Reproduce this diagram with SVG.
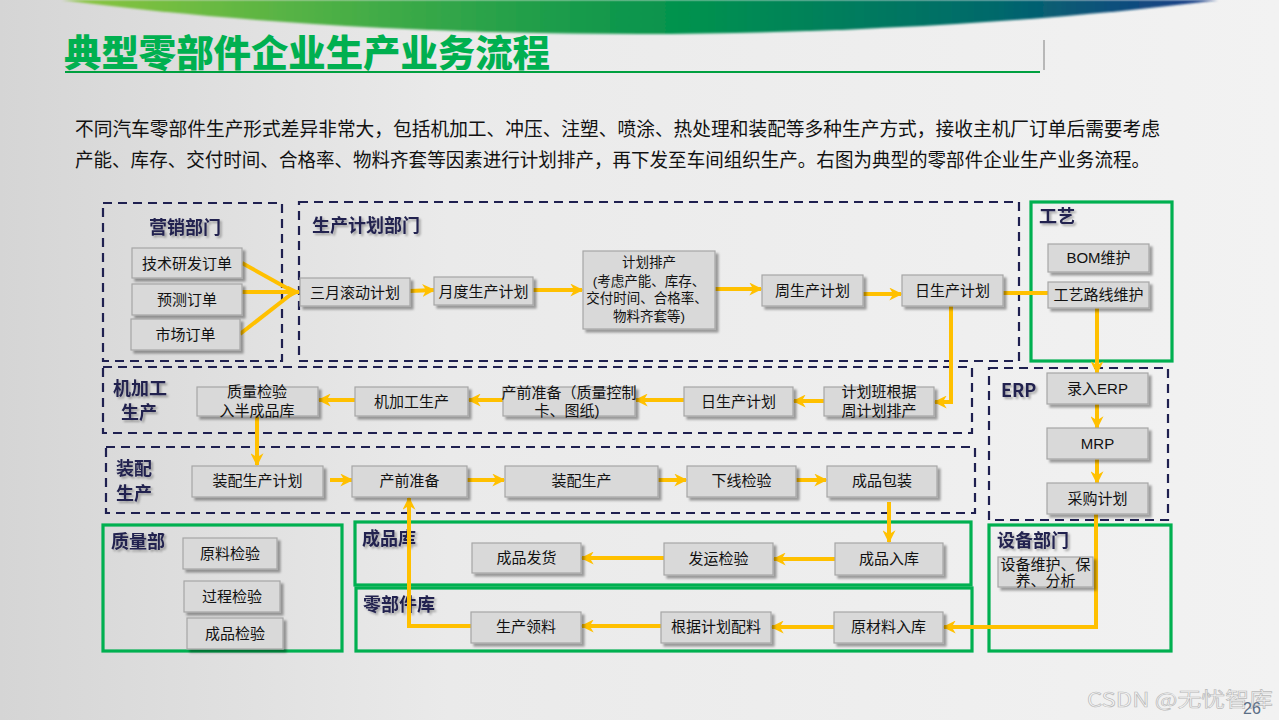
<svg xmlns="http://www.w3.org/2000/svg" width="1279" height="720" viewBox="0 0 1279 720">
<defs>
<linearGradient id="bg" x1="0" y1="0" x2="1" y2="0">
<stop offset="0" stop-color="#d5d5d5"/>
<stop offset="0.35" stop-color="#eaeaea"/>
<stop offset="1" stop-color="#f2f2f2"/>
</linearGradient>
<linearGradient id="band" x1="0" y1="0" x2="1" y2="0">
<stop offset="0" stop-color="#8dc63f"/>
<stop offset="0.3" stop-color="#3aa947"/>
<stop offset="0.55" stop-color="#00914f"/>
<stop offset="0.8" stop-color="#006a6a"/>
<stop offset="1" stop-color="#1b3a8a"/>
</linearGradient>
<filter id="blur" x="-5%" y="-50%" width="110%" height="200%"><feGaussianBlur stdDeviation="1.2"/></filter>
<filter id="sh" x="-10%" y="-10%" width="130%" height="140%"><feDropShadow dx="3" dy="3" stdDeviation="1.2" flood-color="#000" flood-opacity="0.35"/></filter>
<filter id="tsh" x="-10%" y="-20%" width="130%" height="150%"><feDropShadow dx="2" dy="2" stdDeviation="1" flood-color="#000" flood-opacity="0.3"/></filter>
<marker id="arr" viewBox="0 0 10 10" refX="9" refY="5" markerWidth="13" markerHeight="13" markerUnits="userSpaceOnUse" orient="auto">
<path d="M0,0 L10,5 L0,10 L3,5 Z" fill="#ffc000"/>
</marker>
<style>
.box{fill:#d9d9d9;stroke:#a6a6a6;stroke-width:1.2;filter:url(#sh)}
.t{font-family:"Liberation Sans","Noto Sans CJK SC",sans-serif;font-size:15px;fill:#111;text-anchor:middle;dominant-baseline:central}
.ts{font-size:13.5px}
.dash{fill:none;stroke:#1f2050;stroke-width:2.2;stroke-dasharray:9 6}
.grn{fill:none;stroke:#00b050;stroke-width:3.2}
.gt{font-family:"Noto Sans CJK SC",sans-serif;font-size:18px;font-weight:bold;fill:#23234f;filter:url(#tsh)}
.c{fill:none;stroke:#ffc000;stroke-width:4}
.ca{fill:none;stroke:#ffc000;stroke-width:4;marker-end:url(#arr)}
.para{font-family:"Noto Sans CJK SC",sans-serif;font-size:19px;fill:#111}
</style>
</defs>
<rect width="1279" height="720" fill="url(#bg)"/>
<path d="M62,0 L1218,0 C1050,22 820,34 640,34 C430,34 230,22 62,0 Z" fill="url(#band)" filter="url(#blur)"/>
<text x="64" y="67" font-family="'Noto Sans CJK SC',sans-serif" font-size="37" font-weight="900" fill="#00b050" textLength="486" lengthAdjust="spacingAndGlyphs">典型零部件企业生产业务流程</text>
<line x1="65" y1="72" x2="1040" y2="72" stroke="#00a040" stroke-width="2"/>
<line x1="1044" y1="40" x2="1044" y2="70" stroke="#808080" stroke-width="1"/>
<text class="para" x="75" y="136" textLength="1085" lengthAdjust="spacingAndGlyphs">不同汽车零部件生产形式差异非常大，包括机加工、冲压、注塑、喷涂、热处理和装配等多种生产方式，接收主机厂订单后需要考虑</text>
<text class="para" x="75" y="167" textLength="1075" lengthAdjust="spacingAndGlyphs">产能、库存、交付时间、合格率、物料齐套等因素进行计划排产，再下发至车间组织生产。右图为典型的零部件企业生产业务流程。</text>

<g id="grp-marketing"><rect class="dash" x="103" y="203" width="179" height="158"/><text class="gt" x="149" y="234">营销部门</text></g>
<g id="grp-planning"><rect class="dash" x="299" y="202" width="720" height="159"/><text class="gt" x="312" y="232">生产计划部门</text></g>
<g id="grp-process"><rect class="grn" x="1031" y="202" width="141" height="159"/><text class="gt" x="1039" y="223">工艺</text></g>
<g id="grp-erp"><rect class="dash" x="989" y="368" width="179" height="152"/><text class="gt" x="1001" y="397">ERP</text></g>
<g id="grp-machining"><rect class="dash" x="103" y="367" width="869" height="66"/><text class="gt" x="113" y="395" font-size="19px">机加工</text><text class="gt" x="121" y="419" font-size="19px">生产</text></g>
<g id="grp-assembly"><rect class="dash" x="106" y="447" width="869" height="66"/><text class="gt" x="116" y="475" font-size="19px">装配</text><text class="gt" x="116" y="500" font-size="19px">生产</text></g>
<g id="grp-quality"><rect class="grn" x="103" y="525" width="239" height="126"/><text class="gt" x="111" y="548">质量部</text></g>
<g id="grp-fgstore"><rect class="grn" x="355" y="522" width="616" height="63"/><text class="gt" x="362" y="545">成品库</text></g>
<g id="grp-partstore"><rect class="grn" x="356" y="588" width="616" height="63"/><text class="gt" x="363" y="611">零部件库</text></g>
<g id="grp-equipment"><rect class="grn" x="989" y="525" width="182" height="126"/><text class="gt" x="997" y="547">设备部门</text></g>

<g id="connectors">
<line class="c" x1="242" y1="263" x2="294" y2="292"/>
<line class="ca" x1="242" y1="292" x2="299" y2="292"/>
<line class="c" x1="240" y1="334" x2="294" y2="292"/>
<line class="ca" x1="410" y1="291" x2="434" y2="290"/>
<line class="ca" x1="533" y1="290" x2="582" y2="290"/>
<line class="ca" x1="715" y1="289" x2="761" y2="289"/>
<line class="ca" x1="863" y1="294" x2="901" y2="294"/>
<line class="c" x1="1003" y1="293" x2="1048" y2="293"/>
<polyline class="ca" points="951,306 951,402 935,402"/>
<line class="ca" x1="1097" y1="308" x2="1097" y2="373"/>
<line class="ca" x1="1097" y1="404" x2="1097" y2="428"/>
<line class="ca" x1="1097" y1="459" x2="1097" y2="483"/>
<polyline class="ca" points="1096,514 1096,627 944,627"/>
<line class="ca" x1="824" y1="401" x2="794" y2="401"/>
<line class="ca" x1="684" y1="400" x2="636" y2="400"/>
<line class="ca" x1="503" y1="400" x2="469" y2="400"/>
<line class="ca" x1="355" y1="400" x2="319" y2="400"/>
<line class="ca" x1="257" y1="416" x2="257" y2="465"/>
<line class="ca" x1="330" y1="480" x2="352" y2="480"/>
<line class="ca" x1="467" y1="480" x2="504" y2="480"/>
<line class="ca" x1="658" y1="480" x2="686" y2="480"/>
<line class="ca" x1="796" y1="480" x2="826" y2="480"/>
<line class="ca" x1="889" y1="502" x2="889" y2="542"/>
<line class="ca" x1="835" y1="559" x2="774" y2="559"/>
<line class="ca" x1="664" y1="558" x2="582" y2="558"/>
<line class="ca" x1="834" y1="627" x2="772" y2="627"/>
<line class="ca" x1="661" y1="626" x2="582" y2="626"/>
<polyline class="ca" points="471,626 409,626 409,498"/>
</g>

<g id="n-tech"><rect class="box" x="132" y="248" width="110" height="30"/><text class="t" x="187" y="263">技术研发订单</text></g>
<g id="n-forecast"><rect class="box" x="132" y="284" width="110" height="31"/><text class="t" x="187" y="299.5">预测订单</text></g>
<g id="n-market"><rect class="box" x="131" y="319" width="109" height="31"/><text class="t" x="185.5" y="334.5">市场订单</text></g>
<g id="n-3month"><rect class="box" x="300" y="278" width="110" height="28"/><text class="t" x="355" y="292">三月滚动计划</text></g>
<g id="n-monthly"><rect class="box" x="434" y="277" width="99" height="28"/><text class="t" x="483.5" y="291">月度生产计划</text></g>
<g id="n-schedule"><rect class="box" x="583" y="251" width="132" height="78"/><text class="t ts" x="649" y="262">计划排产</text><text class="t ts" x="649" y="281">(考虑产能、库存、</text><text class="t ts" x="647" y="298">交付时间、合格率、</text><text class="t ts" x="649" y="316">物料齐套等)</text></g>
<g id="n-weekly"><rect class="box" x="762" y="275" width="101" height="31"/><text class="t" x="812.5" y="290.5">周生产计划</text></g>
<g id="n-daily1"><rect class="box" x="902" y="275" width="101" height="31"/><text class="t" x="952.5" y="290.5">日生产计划</text></g>
<g id="n-bom"><rect class="box" x="1048" y="244" width="101" height="28"/><text class="t" x="1098.5" y="257">BOM维护</text></g>
<g id="n-route"><rect class="box" x="1048" y="282" width="101" height="26"/><text class="t" x="1098.5" y="294">工艺路线维护</text></g>
<g id="n-erpin"><rect class="box" x="1047" y="373" width="101" height="31"/><text class="t" x="1097.5" y="388">录入ERP</text></g>
<g id="n-mrp"><rect class="box" x="1047" y="428" width="101" height="31"/><text class="t" x="1097.5" y="443">MRP</text></g>
<g id="n-purchase"><rect class="box" x="1047" y="483" width="101" height="31"/><text class="t" x="1097.5" y="498">采购计划</text></g>
<g id="n-qcsemi"><rect class="box" x="197" y="387" width="121" height="29"/><text class="t" x="257" y="391">质量检验</text><text class="t" x="257" y="410">入半成品库</text></g>
<g id="n-machine"><rect class="box" x="355" y="387" width="113" height="29"/><text class="t" x="411.5" y="401">机加工生产</text></g>
<g id="n-prep1"><rect class="box" x="503" y="387" width="132" height="29"/><text class="t" x="569" y="392">产前准备（质量控制</text><text class="t" x="567" y="410">卡、图纸)</text></g>
<g id="n-daily2"><rect class="box" x="684" y="387" width="109" height="29"/><text class="t" x="738.5" y="401">日生产计划</text></g>
<g id="n-shift"><rect class="box" x="824" y="387" width="110" height="29"/><text class="t" x="879" y="391">计划班根据</text><text class="t" x="879" y="410">周计划排产</text></g>
<g id="n-asmplan"><rect class="box" x="192" y="466" width="131" height="31"/><text class="t" x="257.5" y="480">装配生产计划</text></g>
<g id="n-prep2"><rect class="box" x="352" y="466" width="115" height="31"/><text class="t" x="409.5" y="480">产前准备</text></g>
<g id="n-asm"><rect class="box" x="505" y="466" width="153" height="31"/><text class="t" x="581.5" y="480">装配生产</text></g>
<g id="n-lineqc"><rect class="box" x="687" y="466" width="109" height="31"/><text class="t" x="741.5" y="480">下线检验</text></g>
<g id="n-pack"><rect class="box" x="827" y="466" width="110" height="31"/><text class="t" x="882" y="480">成品包装</text></g>
<g id="n-rawqc"><rect class="box" x="183" y="538" width="94" height="31"/><text class="t" x="230" y="553">原料检验</text></g>
<g id="n-procqc"><rect class="box" x="184" y="581" width="96" height="31"/><text class="t" x="232" y="596">过程检验</text></g>
<g id="n-fgqc"><rect class="box" x="187" y="618" width="96" height="31"/><text class="t" x="235" y="633">成品检验</text></g>
<g id="n-ship"><rect class="box" x="472" y="543" width="109" height="30"/><text class="t" x="526.5" y="557">成品发货</text></g>
<g id="n-shipqc"><rect class="box" x="664" y="543" width="109" height="32"/><text class="t" x="718.5" y="558">发运检验</text></g>
<g id="n-fgin"><rect class="box" x="835" y="543" width="108" height="32"/><text class="t" x="889" y="558">成品入库</text></g>
<g id="n-pick"><rect class="box" x="471" y="612" width="110" height="31"/><text class="t" x="526" y="626">生产领料</text></g>
<g id="n-kit"><rect class="box" x="661" y="612" width="110" height="31"/><text class="t" x="716" y="626">根据计划配料</text></g>
<g id="n-rawin"><rect class="box" x="834" y="612" width="109" height="31"/><text class="t" x="888.5" y="626">原材料入库</text></g>
<g id="n-equip"><rect class="box" x="998" y="557" width="95" height="30"/><text class="t" x="1045.5" y="564">设备维护、保</text><text class="t" x="1045.5" y="580">养、分析</text></g>

<text x="1087" y="707" font-family="'Noto Sans CJK SC',sans-serif" font-size="20" fill="#f4f4f4" stroke="#b8b8b8" stroke-width="0.6" textLength="186" lengthAdjust="spacingAndGlyphs">CSDN @无忧智库</text>
<text x="1243" y="714" font-family="'Liberation Sans',sans-serif" font-size="16" fill="#5b6e86">26</text>
</svg>
